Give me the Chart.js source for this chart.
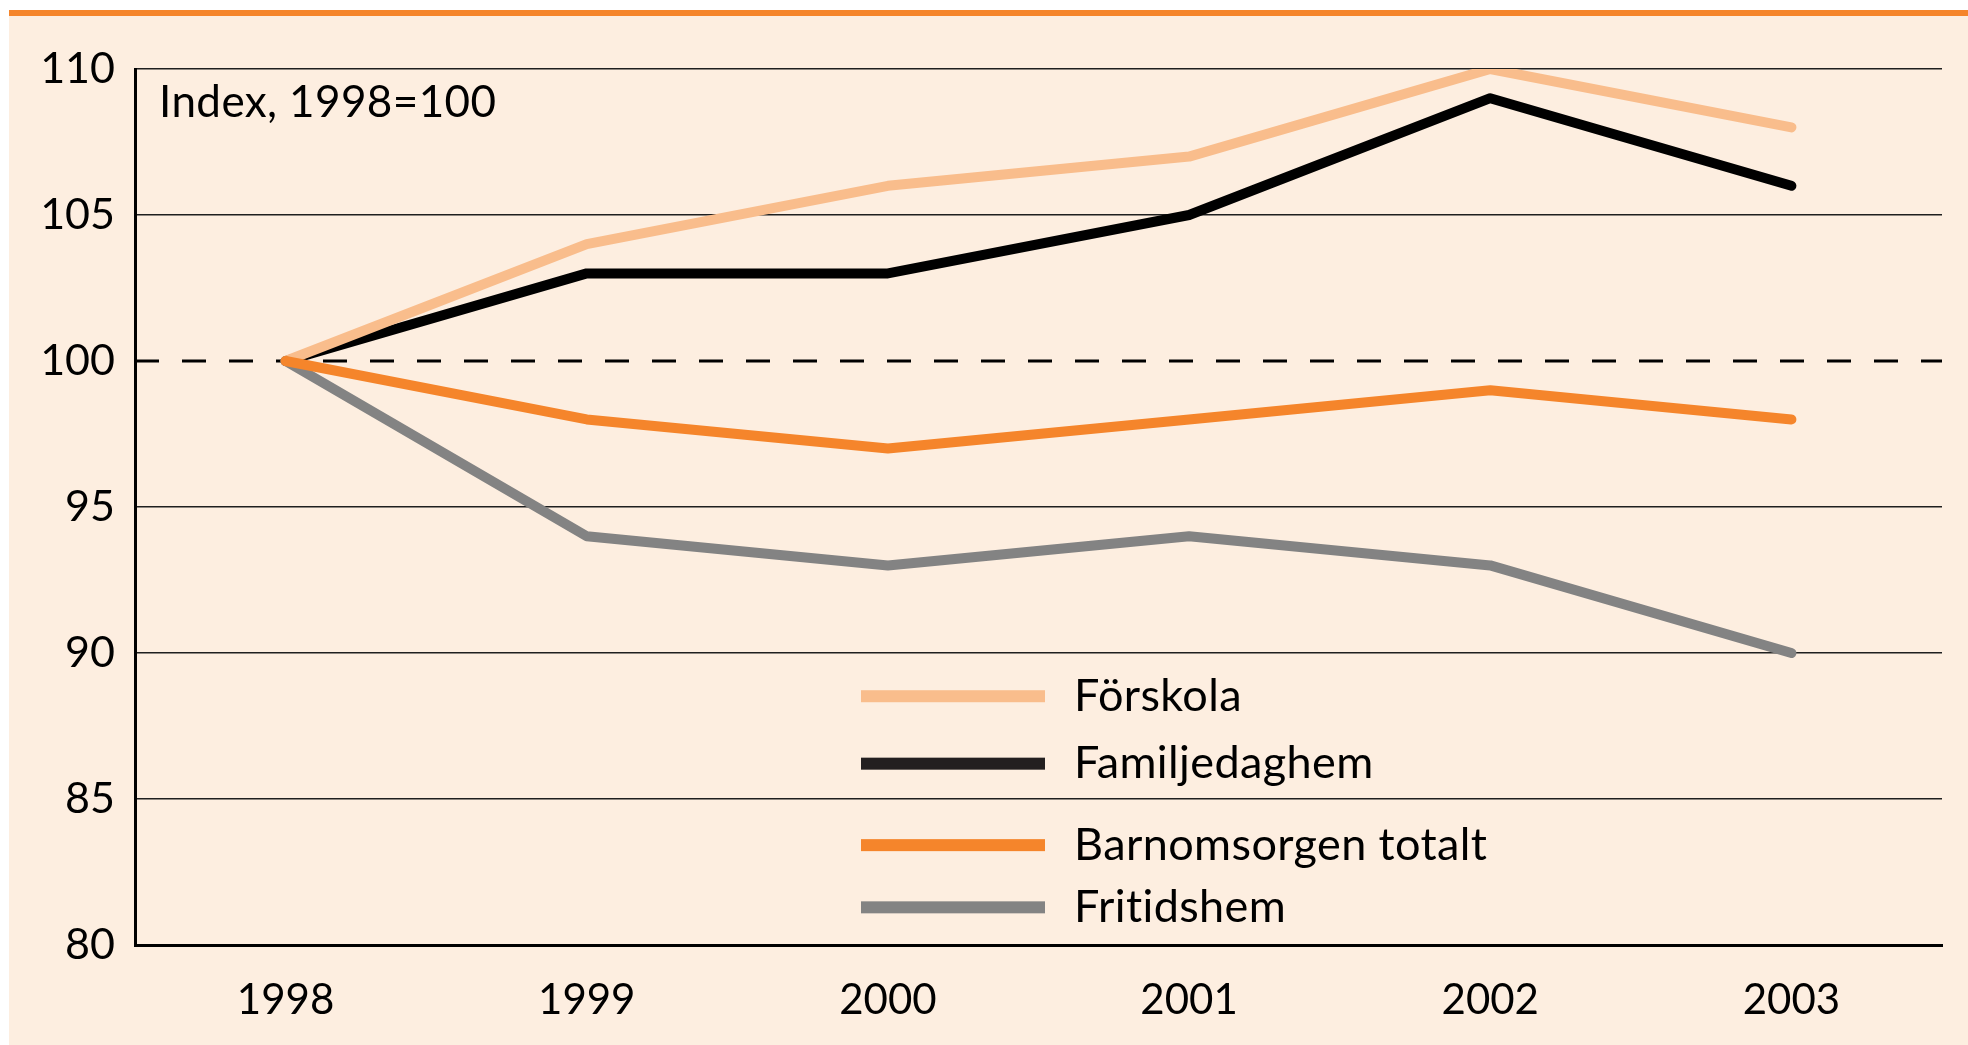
<!DOCTYPE html>
<html>
<head>
<meta charset="utf-8">
<script src="https://cdn.jsdelivr.net/npm/chart.js@4"></script>
<style>
  html, body { margin: 0; padding: 0; background: #fff; }
  #wrap { width: 1968px; height: 1045px; }
</style>
</head>
<body>
<div id="wrap"><canvas id="indexChart" width="1968" height="1045"></canvas></div>
<script>
const years = ['1998', '1999', '2000', '2001', '2002', '2003'];
const forskola = [100, 104, 106, 107, 110, 108];
const familjedaghem = [100, 103, 103, 105, 109, 106];
const barnomsorgen = [100, 98, 97, 98, 99, 98];
const fritidshem = [100, 94, 93, 94, 93, 90];
const yTicks = [80, 85, 90, 95, 100, 105, 110];
const seriesNames = ['Förskola', 'Familjedaghem', 'Barnomsorgen totalt', 'Fritidshem'];
const seriesColors = ['#f9bd8c', '#000000', '#f5852b', '#838383'];

const FONT = 'Lato, "Open Sans", sans-serif';
const BG = '#fdeee0';

// background panel + orange rule along the top
const backdrop = {
  id: 'backdrop',
  beforeDraw(chart) {
    const ctx = chart.ctx;
    ctx.save();
    ctx.fillStyle = '#ffffff';
    ctx.fillRect(0, 0, chart.width, chart.height);
    ctx.fillStyle = BG;
    ctx.fillRect(9, 10, chart.width - 9, chart.height - 10);
    ctx.fillStyle = '#f5852b';
    ctx.fillRect(9, 10, chart.width - 9, 6);
    ctx.restore();
  }
};

// dashed reference line at 100, index note and the legend
const extras = {
  id: 'extras',
  beforeDatasetsDraw(chart) {
    const { ctx, chartArea, scales } = chart;
    const y = Math.round(scales.y.getPixelForValue(100));
    ctx.save();
    ctx.strokeStyle = '#000';
    ctx.lineWidth = 3;
    ctx.setLineDash([24, 23]);
    ctx.beginPath();
    ctx.moveTo(chartArea.left, y);
    ctx.lineTo(chartArea.right, y);
    ctx.stroke();
    ctx.restore();
  },
  afterDatasetsDraw(chart) {
    const { ctx, chartArea } = chart;
    ctx.save();
    ctx.fillStyle = '#000';
    ctx.letterSpacing = '0.4px';
    ctx.font = '44px ' + FONT;
    ctx.textBaseline = 'middle';
    ctx.fillText('Index, 1998=100', chartArea.left + 24, chartArea.top + 34);

    // legend, two groups split by the 90 grid line
    const rows = [0.716, 0.793, 0.886, 0.957];
    const x0 = 861, x1 = 1045;
    ctx.font = '45px ' + FONT;
    rows.forEach((f, i) => {
      const yy = chartArea.top + f * (chartArea.bottom - chartArea.top);
      ctx.fillStyle = seriesColors[i] === '#000000' ? '#231f20' : seriesColors[i];
      ctx.fillRect(x0, yy - 6, x1 - x0, 12);
      ctx.fillStyle = '#000';
      ctx.fillText(seriesNames[i], 1074, yy);
    });
    ctx.restore();
  }
};

const lineStyle = {
  borderWidth: 10,
  pointRadius: 0,
  borderCapStyle: 'round',
  borderJoinStyle: 'round',
  tension: 0,
  fill: false
};

new Chart(document.getElementById('indexChart'), {
  type: 'line',
  data: {
    labels: years,
    datasets: [
      { label: seriesNames[0], data: forskola, borderColor: seriesColors[0], order: 3, ...lineStyle },
      { label: seriesNames[1], data: familjedaghem, borderColor: seriesColors[1], order: 4, ...lineStyle },
      { label: seriesNames[2], data: barnomsorgen, borderColor: seriesColors[2], order: 1, ...lineStyle },
      { label: seriesNames[3], data: fritidshem, borderColor: seriesColors[3], order: 2, ...lineStyle }
    ]
  },
  options: {
    responsive: false,
    animation: false,
    layout: { padding: { left: 0, top: 69, right: 26, bottom: 0 } },
    plugins: { legend: { display: false }, tooltip: { enabled: false } },
    scales: {
      x: {
        offset: true,
        grid: { display: false },
        border: { display: true, color: '#000', width: 3 },
        ticks: { color: '#000', font: { family: FONT, size: 42 }, padding: 22, maxRotation: 0 },
        afterFit(scale) { scale.height = 100; }
      },
      y: {
        min: 80,
        max: 110,
        afterBuildTicks(scale) { scale.ticks = yTicks.map(v => ({ value: v })); },
        grid: {
          drawTicks: false,
          lineWidth: 1.6,
          color: ctx => (ctx.tick && (ctx.tick.value === 100 || ctx.tick.value === 80)) ? 'rgba(0,0,0,0)' : '#1f1f1f'
        },
        border: { display: true, color: '#000', width: 3 },
        ticks: { color: '#000', font: { family: FONT, size: 43 }, padding: 20 },
        afterFit(scale) { scale.width = 135; }
      }
    }
  },
  plugins: [backdrop, extras]
});
</script>
</body>
</html>
